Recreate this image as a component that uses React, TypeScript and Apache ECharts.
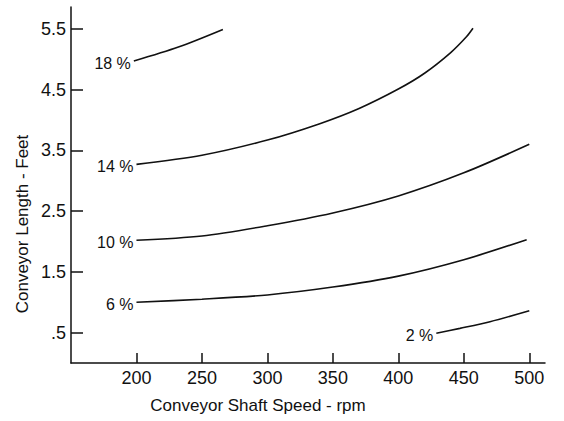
import React, { useEffect, useRef } from "react";
import * as echarts from "echarts";

// Tick values
const xTicks = [200, 250, 300, 350, 400, 450, 500];
const yTicks = [0.5, 1.5, 2.5, 3.5, 4.5, 5.5];

// Curves: shaft speed (rpm) vs conveyor length (feet), labelled by slope %
const speed18 = [198, 232, 266];
const len18 = [4.97, 5.2, 5.49];

const speed14 = [200, 250, 300, 340, 370, 400, 420, 440, 452, 457];
const len14 = [3.27, 3.42, 3.67, 3.94, 4.19, 4.51, 4.77, 5.11, 5.37, 5.51];

const speed10 = [200, 250, 300, 350, 400, 450, 500];
const len10 = [2.02, 2.09, 2.26, 2.47, 2.75, 3.13, 3.6];

const speed6 = [200, 250, 300, 350, 400, 450, 498];
const len6 = [1.0, 1.05, 1.12, 1.25, 1.43, 1.7, 2.03];

const speed2 = [429, 447, 470, 500];
const len2 = [0.49, 0.57, 0.68, 0.86];

const curveNames = ["18 %", "14 %", "10 %", "6 %", "2 %"];

const FONT = "Liberation Sans";
const INK = "#111";

function buildSeries(name: string, xs: number[], ys: number[]) {
  return {
    type: "line",
    name,
    smooth: 0.3,
    symbol: "circle",
    symbolSize: 0,
    showSymbol: true,
    lineStyle: { color: INK, width: 1.6 },
    itemStyle: { color: INK },
    emphasis: { disabled: true },
    data: xs.map((x, i) =>
      i === 0
        ? {
            value: [x, ys[i]],
            label: {
              show: true,
              position: "left",
              distance: 3,
              offset: [0, 2],
              formatter: name,
              fontFamily: FONT,
              fontSize: 16,
              color: INK,
            },
          }
        : { value: [x, ys[i]] }
    ),
  };
}

export default function App() {
  const ref = useRef<HTMLDivElement>(null);
  useEffect(() => {
    if (!ref.current) return;
    const chart = echarts.init(ref.current, null, { renderer: "svg" });
    chart.setOption({
      animation: false,
      backgroundColor: "#fff",
      grid: { left: 71, right: 19, top: 7, bottom: 58, containLabel: false },
      xAxis: {
        type: "value",
        min: 150,
        max: 512,
        axisLine: { show: true, lineStyle: { color: INK, width: 1.5 } },
        axisTick: {
          show: true,
          inside: true,
          length: 10,
          customValues: xTicks,
          lineStyle: { color: INK, width: 1.5 },
        },
        axisLabel: {
          customValues: xTicks,
          margin: 6,
          fontFamily: FONT,
          fontSize: 18,
          color: INK,
        },
        splitLine: { show: false },
      },
      yAxis: {
        type: "value",
        min: 0,
        max: 5.86,
        axisLine: { show: true, lineStyle: { color: INK, width: 1.5 } },
        axisTick: {
          show: true,
          inside: true,
          length: 12,
          customValues: yTicks,
          lineStyle: { color: INK, width: 1.5 },
        },
        axisLabel: {
          customValues: yTicks,
          margin: 5,
          fontFamily: FONT,
          fontSize: 18,
          color: INK,
          formatter: (v: number) => (v < 1 ? ".5" : v.toFixed(1)),
        },
        splitLine: { show: false },
      },
      graphic: [
        {
          type: "text",
          x: 22,
          y: 224,
          rotation: Math.PI / 2,
          style: {
            text: "Conveyor Length - Feet",
            fontFamily: FONT,
            fontSize: 17,
            fill: INK,
            textAlign: "center",
            textVerticalAlign: "middle",
          },
        },
        {
          type: "text",
          x: 258,
          y: 405,
          style: {
            text: "Conveyor Shaft Speed - rpm",
            fontFamily: FONT,
            fontSize: 17,
            fill: INK,
            textAlign: "center",
            textVerticalAlign: "middle",
          },
        },
      ],
      series: [
        buildSeries(curveNames[0], speed18, len18),
        buildSeries(curveNames[1], speed14, len14),
        buildSeries(curveNames[2], speed10, len10),
        buildSeries(curveNames[3], speed6, len6),
        buildSeries(curveNames[4], speed2, len2),
      ],
    });
    return () => chart.dispose();
  }, []);
  return (
    <div
      ref={ref}
      style={{ position: "fixed", left: 0, top: 0, width: 564, height: 421 }}
    />
  );
}
